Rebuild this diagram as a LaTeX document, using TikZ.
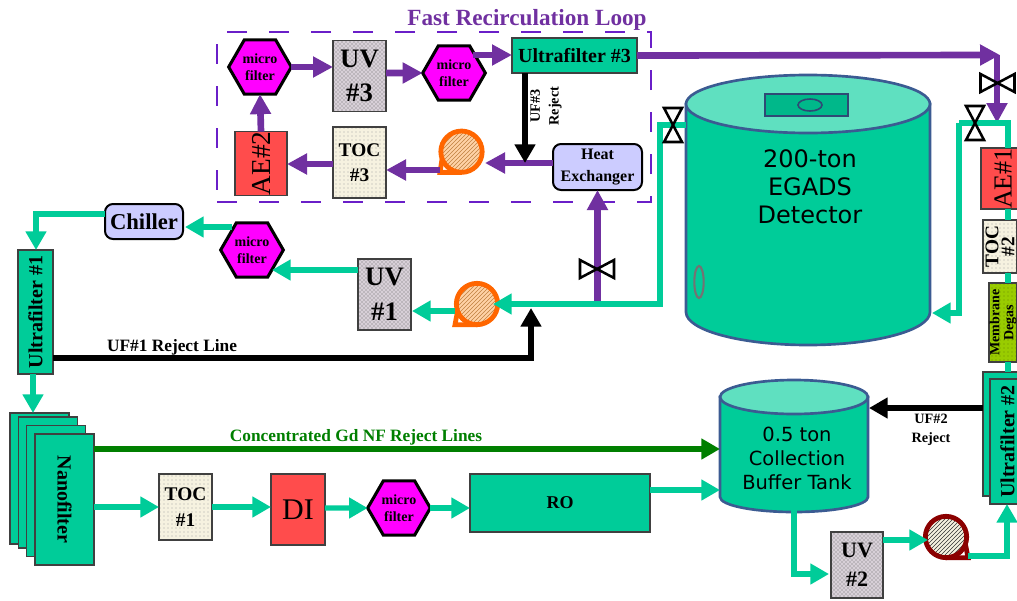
\documentclass[tikz,border=0pt]{standalone}
\usepackage{fontspec}
\setmainfont{Liberation Serif}
\newfontfamily\tanksans{DejaVu Sans}
\usetikzlibrary{arrows.meta,patterns,shapes.geometric}
\definecolor{filtergreen}{HTML}{00CC99}
\definecolor{tanktop}{HTML}{5FE0C0}
\definecolor{tankedge}{HTML}{3B5B92}
\definecolor{looppurple}{HTML}{7030A0}
\definecolor{dashpurple}{HTML}{6A1FC8}
\definecolor{aered}{HTML}{FF4C4C}
\definecolor{hxblue}{HTML}{CCCCFF}
\definecolor{nfgreen}{HTML}{007F00}
\definecolor{uvgrey}{HTML}{D8D0D8}
\definecolor{tocbeige}{HTML}{F6F2E0}
\definecolor{degasgreen}{HTML}{99CC00}
\definecolor{micromagenta}{HTML}{FF00FF}
\definecolor{pumporange}{HTML}{FF6600}
\definecolor{pumpred}{HTML}{8B0000}
\newcommand{\pxfont}[2]{\fontsize{#1}{#2}\selectfont}
\tikzset{
  dims/.style 2 args={minimum width=#1*0.75pt,minimum height=#2*0.75pt},
  unit/.style={draw=black!75,line width=0.9pt,inner sep=0pt,outer sep=0pt,align=center},
  greenbox/.style={unit,fill=filtergreen,font=\bfseries\pxfont{15}{17}},
  uvbox/.style={unit,preaction={fill=uvgrey},pattern=crosshatch dots,pattern color=black!60,font=\bfseries\pxfont{20}{26},dims={53}{71}},
  tocbox/.style={unit,preaction={fill=tocbeige},pattern=dots,pattern color=black!35,font=\bfseries\pxfont{14.5}{19}},
  aebox/.style={unit,fill=aered,font=\pxfont{20.5}{22}},
  microbox/.style={regular polygon,regular polygon sides=6,draw=black,fill=micromagenta,line width=2.3pt,minimum size=47pt,inner sep=0pt,outer sep=0pt,align=center,font=\bfseries\pxfont{10.5}{13}},
  softbox/.style={draw=black,fill=hxblue,line width=1.5pt,rounded corners=6pt,inner sep=0pt,outer sep=0pt,align=center},
  pumpbody/.style={circle,line width=3.6pt,minimum size=31pt,inner sep=0pt,outer sep=0pt},
  tankwall/.style={draw=tankedge,line width=2pt,fill=filtergreen},
  tanklidtop/.style={draw=tankedge,line width=2pt,fill=tanktop},
  tanktext/.style={inner sep=0pt,align=center},
  greenflow/.style={draw=filtergreen,line width=4pt},
  purpleflow/.style={draw=looppurple,line width=5pt},
  rejectflow/.style={draw=black,line width=4.5pt},
  greentip/.style={-{Triangle[length=14pt,width=15pt,color=filtergreen]}},
  purpletip/.style={-{Triangle[length=15pt,width=15pt,color=looppurple]}},
  blacktip/.style={-{Triangle[length=14pt,width=15pt]}},
  tag/.style={inner sep=0pt,align=center,font=\bfseries\pxfont{10.7}{14}},
  valve/.pic={\draw[black,line width=1.9pt] (-17,-9) -- (17,9) -- (17,-9) -- (-17,9) -- cycle;}
}
\begin{document}
\begin{tikzpicture}[x=0.75pt,y=-0.75pt]
\path[use as bounding box,clip] (0,0) rectangle (1017,600);
% fast loop frame and title
\node[inner sep=0pt,text=looppurple,font=\bfseries\pxfont{17.4}{20}] (looptitle) at (527,20) {Fast Recirculation Loop};
\node[draw=dashpurple,line width=1.9pt,dash pattern=on 15pt off 16.5pt,dims={434}{170},inner sep=0pt] (loopframe) at (434,117) {};
% tanks
\draw[tankwall] (686,104) -- (686,312) arc (180:0:122 and 33) -- (930,104) -- cycle;
\draw[tanklidtop] (808,104) ellipse (122 and 29);
\node[tanktext,font=\tanksans\pxfont{18}{21}] (bigtanktext) at (810,187) {200-ton\\EGADS\\Detector};
\node[unit,draw=tankedge!80!black,fill=filtergreen!90!black,line width=1.2pt,dims={83}{22}] (tanklid) at (806.5,105) {};
\node[ellipse,draw=tankedge!80!black,line width=1.2pt,minimum width=18pt,minimum height=9pt,inner sep=0pt] (tankhatch) at (810,105) {};
\node[ellipse,draw=black!55,line width=1.6pt,minimum width=7pt,minimum height=24pt,inner sep=0pt] (tankwindow) at (699,282) {};
\draw[tankwall] (720,397) -- (720,497) arc (180:0:74 and 15) -- (868,397) -- cycle;
\draw[tanklidtop] (794,397) ellipse (74 and 17);
\node[tanktext,font=\tanksans\pxfont{14.6}{18}] (buffertext) at (797,458) {0.5 ton\\Collection\\Buffer Tank};
% fast loop units
\node[microbox] (microa) at (260,67) {micro\\filter};
\node[uvbox] (uvthree) at (359.5,76) {UV\\\#3};
\node[microbox] (microb) at (454,73) {micro\\filter};
\node[greenbox,dims={125}{35}] (ufthree) at (574.5,55.5) {Ultrafilter \#3};
\node[softbox,dims={89}{46},font=\bfseries\pxfont{12}{16}] (heatx) at (597.5,167) {Heat\\Exchanger};
\node[tocbox,dims={53}{71}] (tocthree) at (359.5,162.5) {TOC\\\#3};
\node[aebox,rotate=90,dims={63}{52}] (aetwo) at (261,163.5) {AE\#2};
\node[pumpbody,draw=pumporange,preaction={fill=orange!35!white},pattern=north east lines,pattern color=brown] (pumpthree) at (461.5,151.7) {};
% main line units
\node[uvbox] (uvone) at (384.5,294.5) {UV\\\#1};
\node[microbox] (microc) at (252,250) {micro\\filter};
\node[softbox,dims={78}{35},font=\bfseries\pxfont{17}{19}] (chiller) at (144,221.5) {Chiller};
\node[greenbox,rotate=90,dims={124}{35}] (ufone) at (35.5,312) {Ultrafilter \#1};
\node[pumpbody,draw=pumporange,preaction={fill=orange!35!white},pattern=north east lines,pattern color=brown] (pumpone) at (477,304) {};
\node[greenbox,dims={59}{131}] (nanoa) at (39.5,478.5) {};
\node[greenbox,dims={59}{131}] (nanob) at (48,482.5) {};
\node[greenbox,dims={59}{131}] (nanoc) at (56,491) {};
\node[greenbox,rotate=-90,dims={131}{59}] (nanod) at (64.5,499.5) {Nanofilter};
\node[tocbox,dims={53}{66}] (tocone) at (185.5,507) {TOC\\\#1};
\node[unit,fill=aered,dims={54}{71},font=\pxfont{22.5}{24}] (dibed) at (298,509.5) {DI};
\node[microbox] (microd) at (399,508) {micro\\filter};
\node[greenbox,dims={180}{58},font=\bfseries\pxfont{13.5}{15}] (robox) at (560,503) {RO};
\node[uvbox,dims={52}{66},font=\bfseries\pxfont{16.5}{22}] (uvtwo) at (857,565) {UV\\\#2};
\node[pumpbody,draw=pumpred,preaction={fill=tocbeige},pattern=north east lines,pattern color=black!80] (pumptwo) at (946,537) {};
% right hand column
\node[aebox,rotate=90,dims={61}{44},font=\pxfont{19.5}{21}] (aeone) at (1003,178.5) {AE\#1};
\node[tocbox,rotate=90,dims={53}{34},font=\bfseries\pxfont{14.5}{12}] (toctwo) at (1000,246.5) {TOC\\\#2};
\node[unit,rotate=90,preaction={fill=degasgreen},pattern=dots,pattern color=degasgreen!70!black,dims={79}{28},font=\bfseries\pxfont{10.5}{10.5}] (degas) at (1003,322.5) {Membrane\\Degas};
\node[greenbox,dims={35}{124}] (ufbacka) at (1000.5,434) {};
\node[greenbox,rotate=90,dims={125}{35}] (uftwo) at (1007.5,441.5) {Ultrafilter \#2};
% free ends and bends
\coordinate (riser) at (1008,123);
\coordinate (microbout) at (473,55);
\coordinate (ufthreein) at (512,55);
\coordinate (loopturn) at (1000,55);
\coordinate (loopdown) at (997,55);
\coordinate (looptip) at (997,123);
\coordinate (heatxout) at (553,163);
\coordinate (pumpthreein) at (485,163);
\coordinate (rejectjoin) at (525,163);
\coordinate (pumpthreeout) at (440,170);
\coordinate (tocthreeleft) at (333,164);
\coordinate (aetworight) at (287,164);
\coordinate (tankout) at (686,125);
\coordinate (feedbend) at (660,125);
\coordinate (feedcorner) at (660,304);
\coordinate (feedtee) at (597,304);
\coordinate (pumponein) at (493,304);
\coordinate (pumponeout) at (455,311);
\coordinate (uvoneleft) at (412,311);
\coordinate (uvoneout) at (358,270);
\coordinate (microcin) at (272,270);
\coordinate (microcout) at (232,227);
\coordinate (chillerin) at (185,227);
\coordinate (chillerout) at (105,214);
\coordinate (ufonebend) at (36,214);
\coordinate (ufoneout) at (33,374);
\coordinate (nanoin) at (33,413);
\coordinate (ufonereject) at (53,358);
\coordinate (rejectbend) at (531,358);
\coordinate (rejecttip) at (531,308);
\coordinate (nanoreject) at (94,449);
\coordinate (bufferreject) at (720,449);
\coordinate (nanoout) at (94,507);
\coordinate (roout) at (650,490);
\coordinate (bufferin) at (720,490);
\coordinate (bufferout) at (794,510);
\coordinate (uvtwoleft) at (829,574);
\coordinate (uvtwoout) at (883,540);
\coordinate (pumptwoin) at (928,540);
\coordinate (pumptwoout) at (968,556);
\coordinate (uftwoin) at (1007,504);
\coordinate (uftworeject) at (983,408);
\coordinate (bufferedge) at (869,408);
\coordinate (retbend) at (959,123);
\coordinate (tankin) at (932,313);
% pump tails
\draw[draw=pumporange,line width=3.6pt] (pumpthree.-90) -- (pumpthreeout |- pumpthree.south) -- (pumpthree.200);
\draw[draw=pumporange,line width=3.6pt] (pumpone.-90) -- (pumponeout |- pumpone.south) -- (pumpone.200);
\draw[draw=pumpred,line width=3.6pt] (pumptwo.-90) -- (pumptwoout |- pumptwo.south) -- (pumptwo.-20);
% purple loop
\draw[purpleflow,purpletip] (aetwo.east) -- (microa.south);
\draw[purpleflow,purpletip] (microa.east) -- (microa.east -| uvthree.west);
\draw[purpleflow,purpletip] (uvthree.east |- microb) -- (microb.west);
\draw[purpleflow,purpletip] (microbout) -- (ufthreein);
\draw[purpleflow,purpletip] (ufthree.east) -- (loopturn);
\draw[purpleflow,purpletip] (loopdown) -- (looptip);
\draw[purpleflow,purpletip] (heatxout) -- (pumpthreein);
\draw[purpleflow,purpletip] (pumpthreeout) -- (tocthree.east |- pumpthreeout);
\draw[purpleflow,purpletip] (tocthreeleft) -- (aetworight);
\draw[purpleflow,purpletip] (feedtee) -- (heatx.south |- feedtee) -- (heatx.south);
% black reject lines
\draw[rejectflow,blacktip] (ufthree.south -| rejectjoin) -- (rejectjoin);
\draw[rejectflow,blacktip] (ufonereject) -- (rejectbend) -- (rejecttip);
\draw[rejectflow,blacktip] (uftworeject) -- (bufferedge);
% green lines
\draw[greenflow,greentip] (tankout) -- (feedbend) -- (feedcorner) -- (pumponein);
\draw[greenflow,greentip] (pumponeout) -- (uvoneleft);
\draw[greenflow,greentip] (uvoneout) -- (microcin);
\draw[greenflow,greentip] (microcout) -- (chillerin);
\draw[greenflow,greentip] (chillerout) -- (ufonebend) -- (ufone.east -| ufonebend);
\draw[greenflow,greentip] (ufoneout) -- (nanoin);
\draw[greenflow,greentip] (nanoout) -- (tocone.west);
\draw[greenflow,greentip] (tocone.east) -- (tocone.east -| dibed.west);
\draw[greenflow,greentip] (dibed.east |- microd) -- (microd.west);
\draw[greenflow,greentip] (microd.east) -- (microd.east -| robox.west);
\draw[greenflow,greentip] (roout) -- (bufferin);
\draw[greenflow,greentip] (bufferout) |- (uvtwoleft);
\draw[greenflow,greentip] (uvtwoout) -- (pumptwoin);
\draw[greenflow,greentip] (pumptwoout) -| (uftwoin);
\draw[greenflow] (aeone.west -| riser) -- (toctwo.east -| riser);
\draw[greenflow] (toctwo.west -| riser) -- (degas.east -| riser);
\draw[greenflow] (degas.west -| riser) -- (ufbacka.north -| riser);
\draw[greenflow] (aeone.east -| riser) |- (retbend);
\draw[greenflow,greentip] (retbend) |- (tankin);
\draw[draw=nfgreen,line width=5pt,-{Triangle[length=14pt,width=15pt,color=nfgreen]}] (nanoreject) -- (bufferreject);
% valves
\pic at (597,269) {valve};
\pic at (997.5,83) {valve};
\pic[rotate=90] at (975,123) {valve};
\pic[rotate=90] at (673,125) {valve};
% labels
\node[tag,rotate=90] (ufthreetag) at (546,106) {UF\#3\\Reject};
\node[tag] (uftwotag) at (931,430) {UF\#2\\Reject};
\node[tag,font=\bfseries\pxfont{13}{15}] (ufonetag) at (172,347) {UF\#1 Reject Line};
\node[tag,text=nfgreen,font=\bfseries\pxfont{13}{15}] (nftag) at (356,437) {Concentrated Gd NF Reject Lines};
\end{tikzpicture}
\end{document}
